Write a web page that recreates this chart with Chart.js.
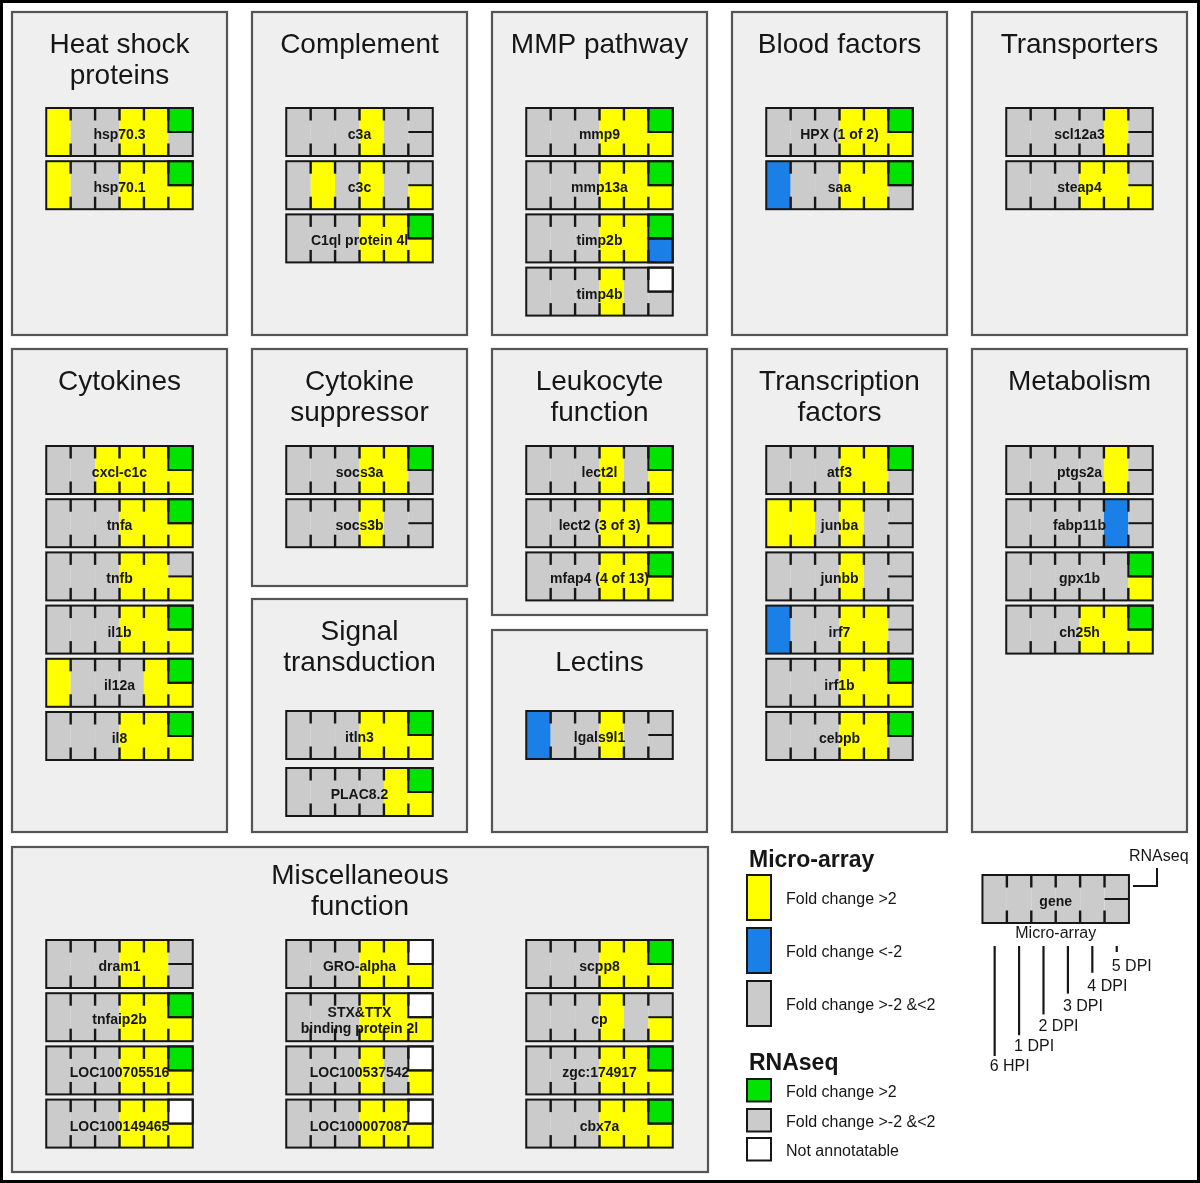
<!DOCTYPE html>
<html>
<head>
<meta charset="utf-8">
<title>Differentially expressed genes</title>
<script src="https://cdn.jsdelivr.net/npm/chart.js@4.4.1/dist/chart.umd.min.js"></script>
<style>
html, body { margin: 0; padding: 0; background: #fff; }
canvas { display: block; }
</style>
</head>
<body>
<canvas id="mycanvas" width="1200" height="1183"></canvas>
<script>
// micro-array time points (last cell is split: top = RNAseq, bottom = 5 DPI)
var timepoints = ['6 HPI', '1 DPI', '2 DPI', '3 DPI', '4 DPI', '5 DPI'];

// functional groups (one panel each)
var groups = ['Heat shock proteins', 'Complement', 'MMP pathway', 'Blood factors', 'Transporters',
	'Cytokines', 'Cytokine suppressor', 'Signal transduction', 'Leukocyte function', 'Lectins',
	'Transcription factors', 'Metabolism', 'Miscellaneous function'];

var genes = [
	'hsp70.3', 'hsp70.1',
	'c3a', 'c3c', 'C1ql protein 4l',
	'mmp9', 'mmp13a', 'timp2b', 'timp4b',
	'HPX (1 of 2)', 'saa',
	'scl12a3', 'steap4',
	'cxcl-c1c', 'tnfa', 'tnfb', 'il1b', 'il12a', 'il8',
	'socs3a', 'socs3b',
	'itln3', 'PLAC8.2',
	'lect2l', 'lect2 (3 of 3)', 'mfap4 (4 of 13)',
	'lgals9l1',
	'atf3', 'junba', 'junbb', 'irf7', 'irf1b', 'cebpb',
	'ptgs2a', 'fabp11b', 'gpx1b', 'ch25h',
	'dram1', 'tnfaip2b', 'LOC100705516', 'LOC100149465',
	'GRO-alpha', 'STX&TTX\nbinding protein 2l', 'LOC100537542', 'LOC100007087',
	'scpp8', 'cp', 'zgc:174917', 'cbx7a'
];

var geneGroup = [
	0, 0,
	1, 1, 1,
	2, 2, 2, 2,
	3, 3,
	4, 4,
	5, 5, 5, 5, 5, 5,
	6, 6,
	7, 7,
	8, 8, 8,
	9,
	10, 10, 10, 10, 10, 10,
	11, 11, 11, 11,
	12, 12, 12, 12, 12, 12, 12, 12, 12, 12, 12, 12
];

// micro-array: 1 = fold change >2, -1 = fold change <-2, 0 = between -2 and 2
var microarray = [
	[1,0,0,1,1,0], [1,0,0,1,1,1],
	[0,0,0,1,0,0], [0,1,0,1,0,1], [0,0,0,1,1,1],
	[0,0,0,1,1,1], [0,0,0,1,1,1], [0,0,0,1,1,-1], [0,0,0,1,0,0],
	[0,0,0,1,1,1], [-1,0,0,1,1,0],
	[0,0,0,0,1,0], [0,0,0,1,1,1],
	[0,0,1,1,1,1], [0,0,0,1,1,1], [0,0,0,1,1,1], [0,0,0,1,1,1], [1,0,0,0,1,1], [0,0,0,1,1,1],
	[0,0,0,1,1,0], [0,0,0,1,0,0],
	[0,0,0,1,1,1], [0,0,0,0,1,1],
	[0,0,0,1,0,1], [0,0,0,1,1,1], [0,0,0,1,1,1],
	[-1,0,0,1,0,0],
	[0,0,0,1,1,0], [1,1,0,1,0,0], [0,0,0,1,0,0], [-1,0,0,1,1,0], [0,0,0,1,1,1], [0,0,0,1,1,0],
	[0,0,0,0,1,0], [0,0,0,0,-1,0], [0,0,0,0,0,1], [0,0,0,1,1,1],
	[0,0,0,1,1,0], [0,0,0,1,1,1], [0,0,0,1,1,1], [0,0,0,1,1,1],
	[0,0,0,1,1,1], [0,0,0,1,1,1], [0,0,0,1,0,1], [0,0,0,1,1,1],
	[0,0,0,1,1,1], [0,0,0,1,0,1], [0,0,0,1,1,1], [0,0,0,1,1,1]
];

// RNAseq: 1 = fold change >2, 0 = between -2 and 2, null = not annotatable
var rnaseq = [
	1, 1,
	0, 0, 1,
	1, 1, 1, null,
	1, 1,
	0, 0,
	1, 1, 0, 1, 1, 1,
	1, 0,
	1, 1,
	1, 1, 1,
	0,
	1, 0, 0, 0, 1, 1,
	0, 0, 1, 1,
	0, 1, 1, null,
	null, null, null, null,
	1, 0, 1, 1
];

var maLegend = ['Fold change >2', 'Fold change <-2', 'Fold change >-2 &<2'];
var rsLegend = ['Fold change >2', 'Fold change >-2 &<2', 'Not annotatable'];

// ---- layout (pixels in the 1200 x 1183 frame) ----
var panels = [
	{ x: 12,  y: 12,  w: 215, h: 323, title: ['Heat shock', 'proteins'], top: 108 },
	{ x: 252, y: 12,  w: 215, h: 323, title: ['Complement'], top: 108 },
	{ x: 492, y: 12,  w: 215, h: 323, title: ['MMP pathway'], top: 108 },
	{ x: 732, y: 12,  w: 215, h: 323, title: ['Blood factors'], top: 108 },
	{ x: 972, y: 12,  w: 215, h: 323, title: ['Transporters'], top: 108 },
	{ x: 12,  y: 349, w: 215, h: 483, title: ['Cytokines'], top: 446 },
	{ x: 252, y: 349, w: 215, h: 237, title: ['Cytokine', 'suppressor'], top: 446 },
	{ x: 252, y: 599, w: 215, h: 233, title: ['Signal', 'transduction'], top: 711, pitch: 57 },
	{ x: 492, y: 349, w: 215, h: 266, title: ['Leukocyte', 'function'], top: 446 },
	{ x: 492, y: 630, w: 215, h: 202, title: ['Lectins'], top: 711 },
	{ x: 732, y: 349, w: 215, h: 483, title: ['Transcription', 'factors'], top: 446 },
	{ x: 972, y: 349, w: 215, h: 483, title: ['Metabolism'], top: 446 },
	{ x: 12,  y: 847, w: 696, h: 325, title: ['Miscellaneous', 'function'], top: 940, titleOff: 36.5,
		cols: [119.5, 359.5, 599.5], perCol: 4 }
];

var BOX_W = 146.5, BOX_H = 48, PITCH = 53.2, TICK = 12.5;
var FONT = "'Liberation Sans', Arial, sans-serif";
var colMA = { '1': '#ffff00', '-1': '#1a7fe6', '0': '#cbcbcb' };
var colRS = { '1': '#00e400', '0': '#cbcbcb', 'null': '#ffffff' };
var INK = '#161616';

var diagram = {
	id: 'diagram',
	beforeDraw: function(chart) {
		chart.ctx.save();
		chart.ctx.fillStyle = '#ffffff';
		chart.ctx.fillRect(0, 0, chart.width, chart.height);
		chart.ctx.restore();
	},
	afterDraw: function(chart) {
		var ctx = chart.ctx;
		var xs = chart.scales.x, ys = chart.scales.y;
		function X(v) { return xs.getPixelForValue(v); }
		function Y(v) { return ys.getPixelForValue(v); }

		function fillBox(x, y, w, h, fill) {
			ctx.fillStyle = fill;
			ctx.fillRect(X(x), Y(y), X(x + w) - X(x), Y(y + h) - Y(y));
		}
		function strokeBox(x, y, w, h, color, lw) {
			ctx.strokeStyle = color;
			ctx.lineWidth = lw;
			ctx.strokeRect(X(x), Y(y), X(x + w) - X(x), Y(y + h) - Y(y));
		}
		function seg(x1, y1, x2, y2, lw) {
			ctx.strokeStyle = INK;
			ctx.lineWidth = lw;
			ctx.lineCap = 'butt';
			ctx.beginPath();
			ctx.moveTo(X(x1), Y(y1));
			ctx.lineTo(X(x2), Y(y2));
			ctx.stroke();
		}
		function txt(s, x, y, font, align) {
			ctx.font = font;
			ctx.fillStyle = INK;
			ctx.textAlign = align || 'center';
			ctx.textBaseline = 'alphabetic';
			ctx.fillText(s, X(x), Y(y));
		}

		function geneBox(cx, top, ma, rs, label) {
			var left = cx - BOX_W / 2, cw = BOX_W / 6, mid = top + BOX_H / 2;
			for (var i = 0; i < 5; i++) fillBox(left + i * cw, top, cw, BOX_H, colMA[ma[i]]);
			fillBox(left + 5 * cw, top, cw, BOX_H / 2, colRS[String(rs)]);
			fillBox(left + 5 * cw, mid, cw, BOX_H / 2, colMA[ma[5]]);
			for (var k = 1; k < 6; k++) {
				seg(left + k * cw, top, left + k * cw, top + TICK, 2.4);
				seg(left + k * cw, top + BOX_H - TICK, left + k * cw, top + BOX_H, 2.4);
			}
			if (rs !== 0) strokeBox(left + 5 * cw, top, cw, BOX_H / 2, INK, 2);
			if (ma[5] === -1) strokeBox(left + 5 * cw, mid, cw, BOX_H / 2, INK, 2);
			seg(left + 5 * cw, mid, left + BOX_W, mid, 2);
			strokeBox(left, top, BOX_W, BOX_H, INK, 2);
			var lines = label.split('\n');
			if (lines.length === 1) {
				txt(label, cx, top + 31, 'bold 14px ' + FONT);
			} else {
				txt(lines[0], cx, top + 23.5, 'bold 14px ' + FONT);
				txt(lines[1], cx, top + 40, 'bold 14px ' + FONT);
			}
		}

		ctx.save();

		// panels with titles and gene boxes
		panels.forEach(function(p, gi) {
			fillBox(p.x, p.y, p.w, p.h, '#efefef');
			strokeBox(p.x, p.y, p.w, p.h, '#555555', 2.2);
			var off = p.titleOff || 40.5;
			p.title.forEach(function(t, li) {
				txt(t, p.x + p.w / 2, p.y + off + li * 31.8, '28px ' + FONT);
			});
			var cols = p.cols || [p.x + p.w / 2];
			var perCol = p.perCol || 99;
			var pitch = p.pitch || PITCH;
			var n = 0;
			for (var g = 0; g < genes.length; g++) {
				if (geneGroup[g] !== gi) continue;
				var c = Math.floor(n / perCol), r = n % perCol;
				geneBox(cols[c], p.top + r * pitch, microarray[g], rnaseq[g], genes[g]);
				n++;
			}
		});

		// legend: micro-array
		txt('Micro-array', 749, 867, 'bold 23px ' + FONT, 'left');
		var maKeys = [1, -1, 0], maTops = [875, 928, 981];
		maKeys.forEach(function(k, i) {
			fillBox(747, maTops[i], 24, 45, colMA[k]);
			strokeBox(747, maTops[i], 24, 45, INK, 2);
			txt(maLegend[i], 786, maTops[i] + 29, '16px ' + FONT, 'left');
		});

		// legend: RNAseq
		txt('RNAseq', 749, 1070, 'bold 23px ' + FONT, 'left');
		var rsKeys = [1, 0, null], rsTops = [1079, 1109, 1138];
		rsKeys.forEach(function(k, i) {
			fillBox(747, rsTops[i], 24, 22.5, colRS[String(k)]);
			strokeBox(747, rsTops[i], 24, 22.5, INK, 2);
			txt(rsLegend[i], 786, rsTops[i] + 17.5, '16px ' + FONT, 'left');
		});

		// key box explaining the cells
		var kx = 1055.7, ky = 875, kcw = BOX_W / 6;
		geneBox(kx, ky, [0,0,0,0,0,0], 0, 'gene');
		seg(1133, 886, 1157, 886, 2);
		seg(1157, 887, 1157, 868, 2);
		txt('RNAseq', 1129, 861, '16px ' + FONT, 'left');
		txt('Micro-array', kx, 938, '16px ' + FONT);
		timepoints.forEach(function(t, i) {
			var lx = kx - BOX_W / 2 + (i + 0.5) * kcw;
			var bottom = 1056 - i * 20.8;
			seg(lx, 946, lx, bottom, 2.2);
			txt(t, lx - 5, 1071 - i * 20, '16px ' + FONT, 'left');
		});

		// outer frame
		strokeBox(1.5, 1.5, 1197, 1180, '#000000', 3);

		ctx.restore();
	}
};

var ctx = document.getElementById('mycanvas');
var chart = new Chart(ctx, {
	type: 'scatter',
	data: { datasets: [] },
	options: {
		responsive: false,
		animation: false,
		events: [],
		devicePixelRatio: 1,
		layout: { padding: 0 },
		plugins: { legend: { display: false }, tooltip: { enabled: false } },
		scales: {
			x: { type: 'linear', min: 0, max: 1200, display: false },
			y: { type: 'linear', min: 0, max: 1183, reverse: true, display: false }
		}
	},
	plugins: [diagram]
});
</script>
</body>
</html>
